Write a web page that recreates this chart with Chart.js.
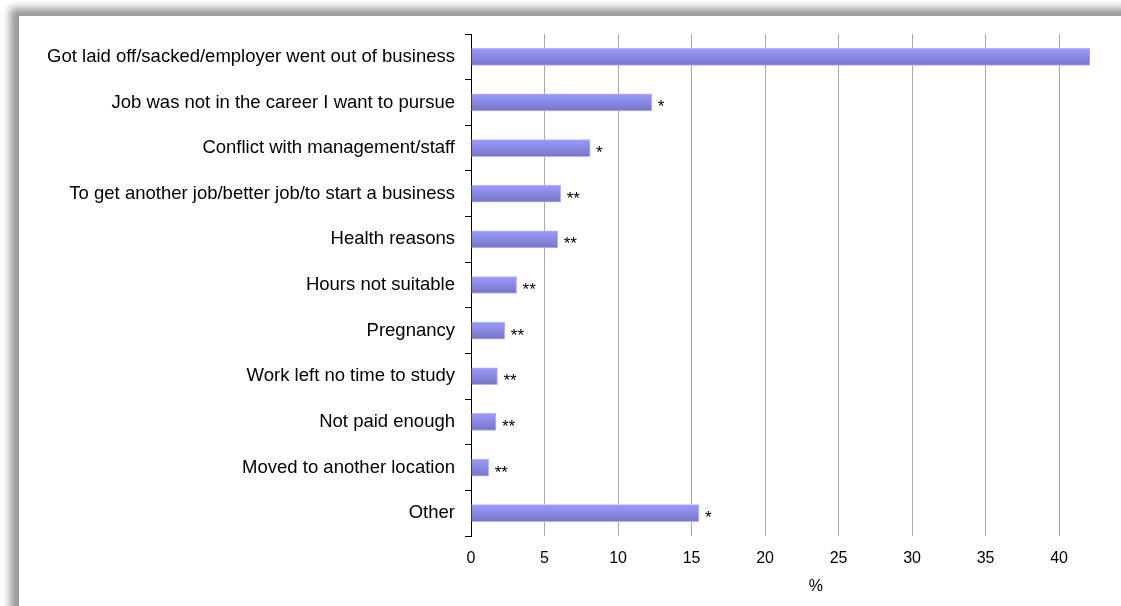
<!DOCTYPE html>
<html lang="en">
<head>
    <meta charset="UTF-8">
    <title>Reasons for leaving job</title>
    <script src="https://cdn.jsdelivr.net/npm/chart.js"></script>
    <style>
      html, body { margin: 0; padding: 0; background: #fff; overflow: hidden; }
      .frame {
        position: absolute; left: 19px; top: 16px; width: 1140px; height: 640px;
        background: #fff; box-shadow: -9px -8px 8px #9a9a9a;
      }
      #chart { position: absolute; left: 0; top: 0; }
    </style>
</head>
<body>
    <div class="frame"></div>
    <canvas id="chart" width="1121" height="606"></canvas>

    <script>
        // reasons and percentages
        var reasons = [
          'Got laid off/sacked/employer went out of business',
          'Job was not in the career I want to pursue',
          'Conflict with management/staff',
          'To get another job/better job/to start a business',
          'Health reasons',
          'Hours not suitable',
          'Pregnancy',
          'Work left no time to study',
          'Not paid enough',
          'Moved to another location',
          'Other'
        ];
        var percent = [42.1, 12.3, 8.1, 6.1, 5.9, 3.1, 2.3, 1.8, 1.7, 1.2, 15.5];
        var flags = ['', '*', '*', '**', '**', '**', '**', '**', '**', '**', '*'];
        var axisTitle = '%';

        // little stars after each bar + the axis title
        var starsPlugin = {
          id: 'stars',
          afterDatasetsDraw: function(chart) {
            var ctx = chart.ctx;
            var meta = chart.getDatasetMeta(0);
            ctx.save();
            ctx.fillStyle = '#000';
            ctx.font = '17px "Liberation Sans", Arial, sans-serif';
            ctx.textAlign = 'left';
            ctx.textBaseline = 'alphabetic';
            meta.data.forEach(function(bar, i) {
              if (!flags[i]) return;
              ctx.fillText(flags[i], bar.x + 6, bar.y + 10);
            });
            var ca = chart.chartArea;
            ctx.font = '16px "Liberation Sans", Arial, sans-serif';
            ctx.textAlign = 'center';
            ctx.textBaseline = 'middle';
            ctx.fillText(axisTitle, ca.left + (ca.right - ca.left) * 0.557, 587);
            ctx.restore();
          }
        };

        function barFill(context) {
          var chart = context.chart;
          var el = context.element;
          if (!el || !chart.chartArea || !isFinite(el.y)) return '#8585e0';
          var h = el.height || 17;
          var g = chart.ctx.createLinearGradient(0, el.y - h / 2, 0, el.y + h / 2);
          g.addColorStop(0, '#9a9afc');
          g.addColorStop(1, '#7676c6');
          return g;
        }

        var ctx = document.getElementById('chart').getContext('2d');
        var chart = new Chart(ctx, {
          type: 'bar',
          data: {
            labels: reasons,
            datasets: [{
              data: percent,
              backgroundColor: barFill,
              borderColor: '#b4b4ff',
              borderWidth: 1,
              borderSkipped: 'start',
              barThickness: 17
            }]
          },
          plugins: [starsPlugin],
          options: {
            indexAxis: 'y',
            responsive: false,
            animation: false,
            layout: { padding: { top: 34, right: 31, left: 0, bottom: 0 } },
            plugins: {
              legend: { display: false },
              tooltip: { enabled: false }
            },
            scales: {
              x: {
                min: 0,
                max: 42.1,
                afterFit: function(scale) { scale.height = 70; },
                grid: { color: '#a8a8a8', lineWidth: 1, drawTicks: false },
                border: { display: false },
                ticks: {
                  stepSize: 5,
                  includeBounds: false,
                  padding: 13,
                  color: '#000',
                  font: { family: '"Liberation Sans", Arial, sans-serif', size: 16 }
                }
              },
              y: {
                afterFit: function(scale) { scale.width = 471; },
                grid: { drawOnChartArea: false, color: '#000', tickLength: 6 },
                border: { color: '#000', width: 1 },
                ticks: {
                  padding: 10,
                  color: '#000',
                  font: { family: '"Liberation Sans", Arial, sans-serif', size: 18.5 }
                }
              }
            }
          }
        });
        chart.update();
    </script>
</body>
</html>
